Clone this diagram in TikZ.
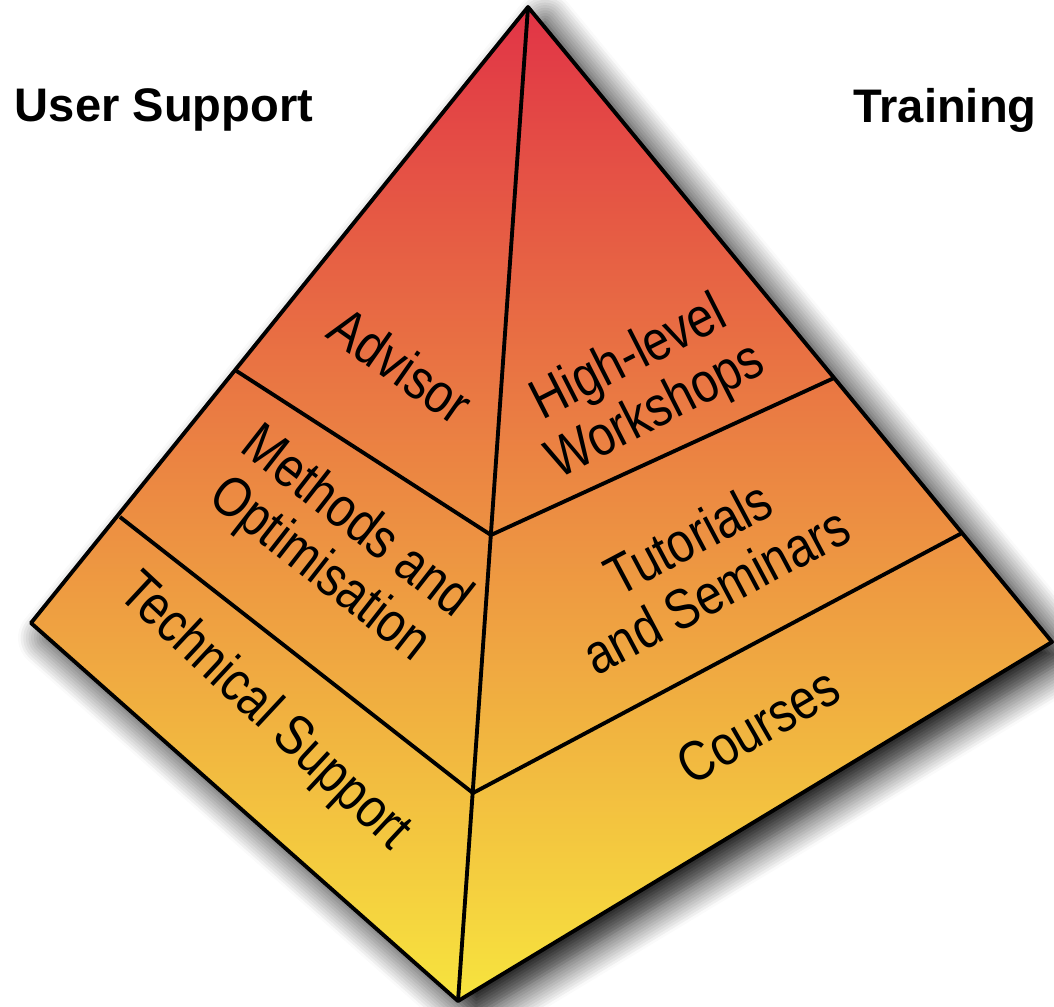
\documentclass[tikz,border=0pt]{standalone}
\usepackage{fontspec}
\setmainfont{Liberation Sans}
\newfontfamily\narrowsans[FakeStretch=0.84]{Liberation Sans}
\usetikzlibrary{shadows.blur}
\definecolor{pyrred}{RGB}{225,52,70}
\definecolor{pyrorange}{RGB}{238,160,80}
\definecolor{pyryellow}{RGB}{247,228,62}
\tikzset{
  facetext/.style={font=\narrowsans\fontsize{16}{17}\selectfont, align=center, inner sep=0pt},
  sidetitle/.style={font=\fontsize{13.4}{15}\selectfont\bfseries, inner sep=0pt}
}
\begin{document}
\begin{tikzpicture}[line width=1.1pt, line join=round]
	\useasboundingbox (0,0) rectangle (10.54,10.06);
	\coordinate (apex) at (5.28,9.99);
	\coordinate (left) at (0.31,3.83);
	\coordinate (bottom) at (4.58,0.05);
	\coordinate (right) at (10.52,3.64);
	\coordinate (f1) at (4.91,4.71);
	\coordinate (f2) at (4.73,2.13);
	\coordinate (l1) at (2.35,6.36);
	\coordinate (l2) at (1.20,4.89);
	\coordinate (r1) at (8.34,6.28);
	\coordinate (r2) at (9.62,4.73);
	\path[draw, top color=pyrred, middle color=pyrorange, bottom color=pyryellow,
		blur shadow={shadow xshift=0.17cm, shadow yshift=-0.15cm, shadow blur radius=0.3cm, shadow opacity=100, shadow blur steps=12}]
		(apex) -- (left) -- (bottom) -- (right) -- cycle;
	\draw (apex) -- (bottom);
	\draw (l1) -- (f1) -- (r1);
	\draw (l2) -- (f2) -- (r2);
	\node[sidetitle] (support) at (1.64,8.96) {User Support};
	\node[sidetitle] (training) at (9.45,8.96) {Training};
	\node[facetext, rotate=-35] (advisor) at (4.01,6.41) {Advisor};
	\node[facetext, rotate=-38] (methods) at (3.37,4.59) {Methods and\\Optimisation};
	\node[facetext, rotate=-43] (technical) at (2.64,2.93) {Technical Support};
	\node[facetext, rotate=27] (workshops) at (6.43,6.20) {High-level\\Workshops};
	\node[facetext, rotate=28] (tutorials) at (7.02,4.42) {Tutorials\\and Seminars};
	\node[facetext, rotate=30] (courses) at (7.58,2.80) {Courses};
\end{tikzpicture}
\end{document}
